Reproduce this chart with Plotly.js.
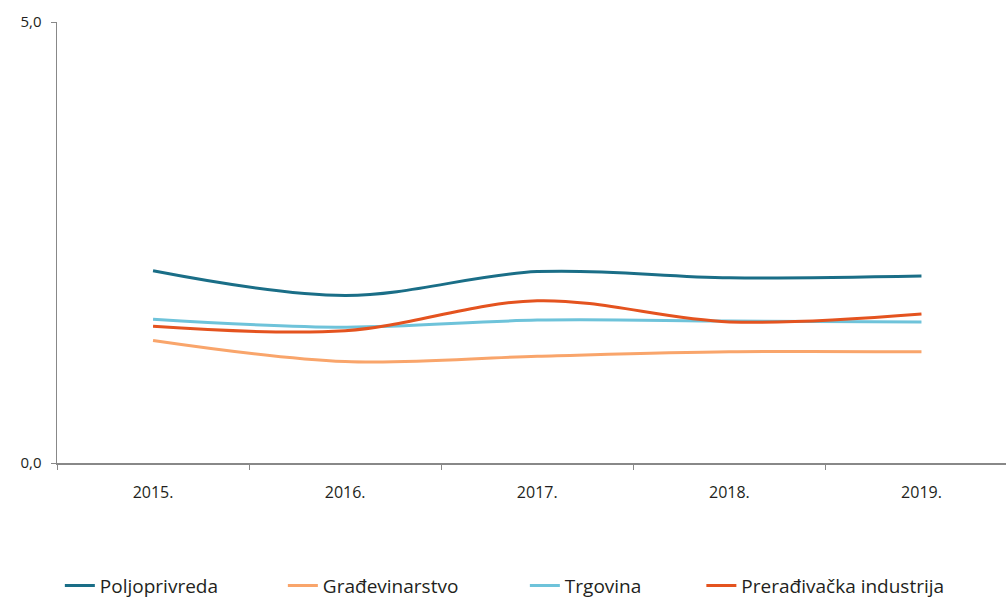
<!DOCTYPE html>
<html>
<head>
<meta charset="utf-8">
<script src="https://cdn.plot.ly/plotly-3.0.1.min.js"></script>
<style>html,body{margin:0;padding:0;background:#fff;}#chart{width:1006px;height:601px;}</style>
</head>
<body>
<div id="chart"></div>
<script>
const years = ["2015.", "2016.", "2017.", "2018.", "2019."];
const poljoprivreda = [2.18, 1.90, 2.17, 2.10, 2.12];
const gradjevinarstvo = [1.39, 1.15, 1.21, 1.26, 1.26];
const trgovina = [1.63, 1.54, 1.62, 1.61, 1.60];
const preradjivacka = [1.55, 1.50, 1.84, 1.60, 1.69];
const yTickVals = [0, 5];
const yTickText = ["0,0", "5,0"];

const names = ["Poljoprivreda", "Građevinarstvo", "Trgovina", "Prerađivačka industrija"];
const series = [poljoprivreda, gradjevinarstvo, trgovina, preradjivacka];
const colors = ["#1a6e87", "#f9a56b", "#6ec3da", "#e4531f"];
const legendIds = ["legend", "legend2", "legend3", "legend4"];
const legendX = [0.003, 0.238, 0.493, 0.679];

const traces = series.map((s, i) => ({
  x: years, y: s, name: names[i], type: "scatter", mode: "lines",
  line: {color: colors[i], width: 3, shape: "spline", smoothing: 1},
  legend: legendIds[i],
  hoverinfo: "skip"
}));

const font = "'Open Sans', sans-serif";
const layout = {
  width: 1006, height: 601,
  margin: {l: 57, r: 0, t: 22, b: 138, autoexpand: false},
  paper_bgcolor: "#fff", plot_bgcolor: "#fff",
  showlegend: true,
  xaxis: {type: "category", range: [-0.5, 4.44], showline: true, linecolor: "#888", linewidth: 1.5,
          ticks: "outside", tickson: "boundaries", ticklen: 5, tickcolor: "#888", tickwidth: 1,
          showgrid: false, zeroline: false, ticklabelstandoff: 14, automargin: false,
          tickfont: {family: font, size: 16, color: "#231f20"}},
  yaxis: {range: [0, 5], showline: true, linecolor: "#888", linewidth: 1.5,
          ticks: "outside", ticklen: 5, tickcolor: "#888", tickwidth: 1,
          tickvals: yTickVals, ticktext: yTickText, showgrid: false, zeroline: false,
          ticklabelstandoff: 6, automargin: false,
          tickfont: {family: font, size: 15, color: "#231f20"}}
};
legendIds.forEach((id, i) => {
  layout[id] = {orientation: "h", x: legendX[i], xanchor: "left", y: -0.278, yanchor: "middle",
                font: {family: font, size: 19, color: "#231f20"}, itemwidth: 30,
                bgcolor: "rgba(0,0,0,0)"};
});
Plotly.newPlot("chart", traces, layout, {displayModeBar: false, staticPlot: true});
</script>
</body>
</html>
